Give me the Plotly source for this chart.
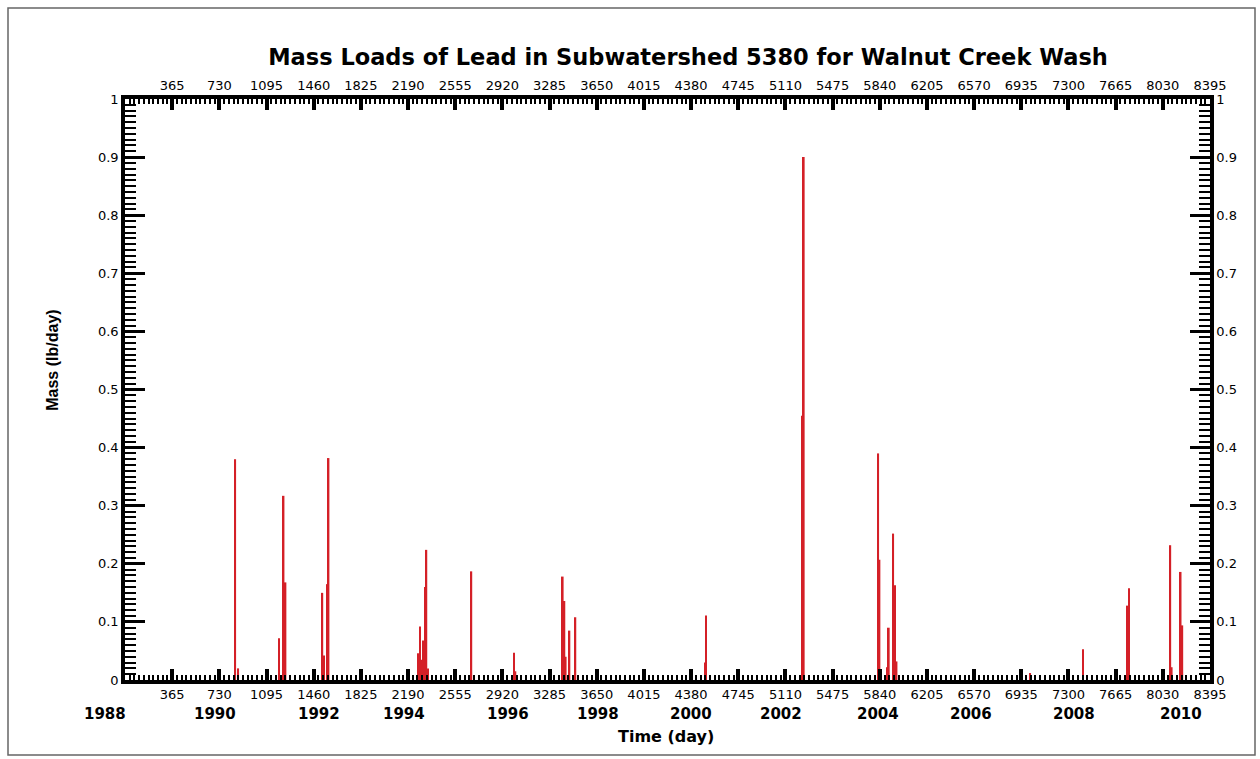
import plotly.graph_objects as go

# ---- data ----
days = [853, 876, 1191, 1227, 1242, 1527, 1539, 1565, 1575,
        2272, 2282, 2298, 2305, 2321, 2332, 2344, 2680, 3010, 3021,
        3387, 3400, 3410, 3439, 3485, 4488, 4496, 5242, 5252,
        5828, 5838, 5900, 5910, 5944, 5957, 5970, 7004, 7412,
        7755, 7768, 8088, 8099, 8168, 8181]
mass = [0.380, 0.020, 0.072, 0.317, 0.168, 0.150, 0.042, 0.165, 0.382,
        0.046, 0.092, 0.035, 0.068, 0.160, 0.224, 0.020, 0.187, 0.047, 0.015,
        0.178, 0.136, 0.040, 0.085, 0.108, 0.030, 0.111, 0.455, 0.900,
        0.390, 0.207, 0.022, 0.090, 0.252, 0.163, 0.032, 0.012, 0.053,
        0.128, 0.158, 0.232, 0.022, 0.186, 0.094]

day_ticks = [365 * k for k in range(1, 24)]
day_labels = [str(v) for v in day_ticks]
y_ticks = [round(0.1 * k, 1) for k in range(0, 11)]
y_labels = ["0", "0.1", "0.2", "0.3", "0.4", "0.5", "0.6", "0.7", "0.8", "0.9", "1"]
year_labels = ["1988", "1990", "1992", "1994", "1996", "1998",
               "2000", "2002", "2004", "2006", "2008", "2010"]
year_label_days = [-151, 693, 1498, 2156, 2961, 3658,
                   4377, 5074, 5825, 6545, 7342, 8171]
X_MAX = 8395

title_text = "Mass Loads of Lead in Subwatershed 5380 for Walnut Creek Wash"
x_title = "Time (day)"
y_title = "Mass (lb/day)"

TICKFONT = dict(family="DejaVu Sans", size=13, color="black")

fig = go.Figure()
fig.add_trace(go.Bar(x=days, y=mass, width=13,
                     marker=dict(color="#d42027", line=dict(width=0)),
                     showlegend=False))
# dummy trace to carry the top/right mirror axes
fig.add_trace(go.Scatter(x=[None], y=[None], xaxis="x2", yaxis="y2",
                         showlegend=False, hoverinfo="skip"))

xcommon = dict(range=[0, X_MAX], tickmode="array", tickvals=day_ticks, ticktext=day_labels,
               ticks="inside", ticklen=11, tickwidth=4, tickcolor="black",
               minor=dict(dtick=36.5, tick0=0, ticks="inside", ticklen=5,
                          tickwidth=1.5, tickcolor="black"),
               showline=True, linewidth=3.5, linecolor="black",
               showgrid=False, zeroline=False, tickfont=TICKFONT)
ycommon = dict(range=[0, 1], tickmode="array", tickvals=y_ticks, ticktext=y_labels,
               ticks="inside", ticklen=20, tickwidth=3, tickcolor="black",
               minor=dict(dtick=0.01, tick0=0, ticks="inside", ticklen=11,
                          tickwidth=1.5, tickcolor="black"),
               showline=True, linewidth=3.5, linecolor="black",
               showgrid=False, zeroline=False, tickfont=TICKFONT)

annotations = []
for lab, d in zip(year_labels, year_label_days):
    annotations.append(dict(text=lab, x=d / X_MAX, xref="paper", y=-0.058, yref="paper",
                            xanchor="center", yanchor="middle", showarrow=False,
                            font=dict(family="DejaVu Sans", size=15, color="black",
                                      weight="bold")))
annotations.append(dict(text=x_title, x=0.499, xref="paper", y=-0.098, yref="paper",
                        xanchor="center", yanchor="middle", showarrow=False,
                        font=dict(family="DejaVu Sans", size=16, color="black",
                                  weight="bold")))
annotations.append(dict(text=y_title, x=-0.067, xref="paper", y=0.55, yref="paper",
                        xanchor="center", yanchor="middle", showarrow=False, textangle=-90,
                        font=dict(family="Liberation Sans Narrow, Liberation Sans", size=16,
                                  color="black", weight="bold")))

fig.update_layout(
    width=1260, height=759,
    margin=dict(l=125, r=50, t=99, b=79, autoexpand=False),
    paper_bgcolor="white", plot_bgcolor="white",
    barmode="overlay",
    title=dict(text=title_text, x=688 / 1260, xref="container", xanchor="center",
               y=1 - 57 / 759, yref="container", yanchor="middle",
               font=dict(family="DejaVu Sans", size=22.5, color="black", weight="bold")),
    xaxis=dict(**xcommon, side="bottom", ticklabelstandoff=0),
    xaxis2=dict(**xcommon, side="top", overlaying="x", matches="x"),
    yaxis=dict(**ycommon, side="left"),
    yaxis2=dict(**ycommon, side="right", overlaying="y", matches="y"),
    annotations=annotations,
    shapes=[dict(type="rect", xref="paper", yref="paper",
                 x0=(8 - 125) / 1085, x1=(1255 - 125) / 1085,
                 y0=(680 - 755) / 581, y1=(680 - 8) / 581,
                 line=dict(color="#666666", width=1.5), layer="below")],
)

fig.write_html("out.html", config={"displayModeBar": False},
               post_script="document.body.style.margin='0';")
